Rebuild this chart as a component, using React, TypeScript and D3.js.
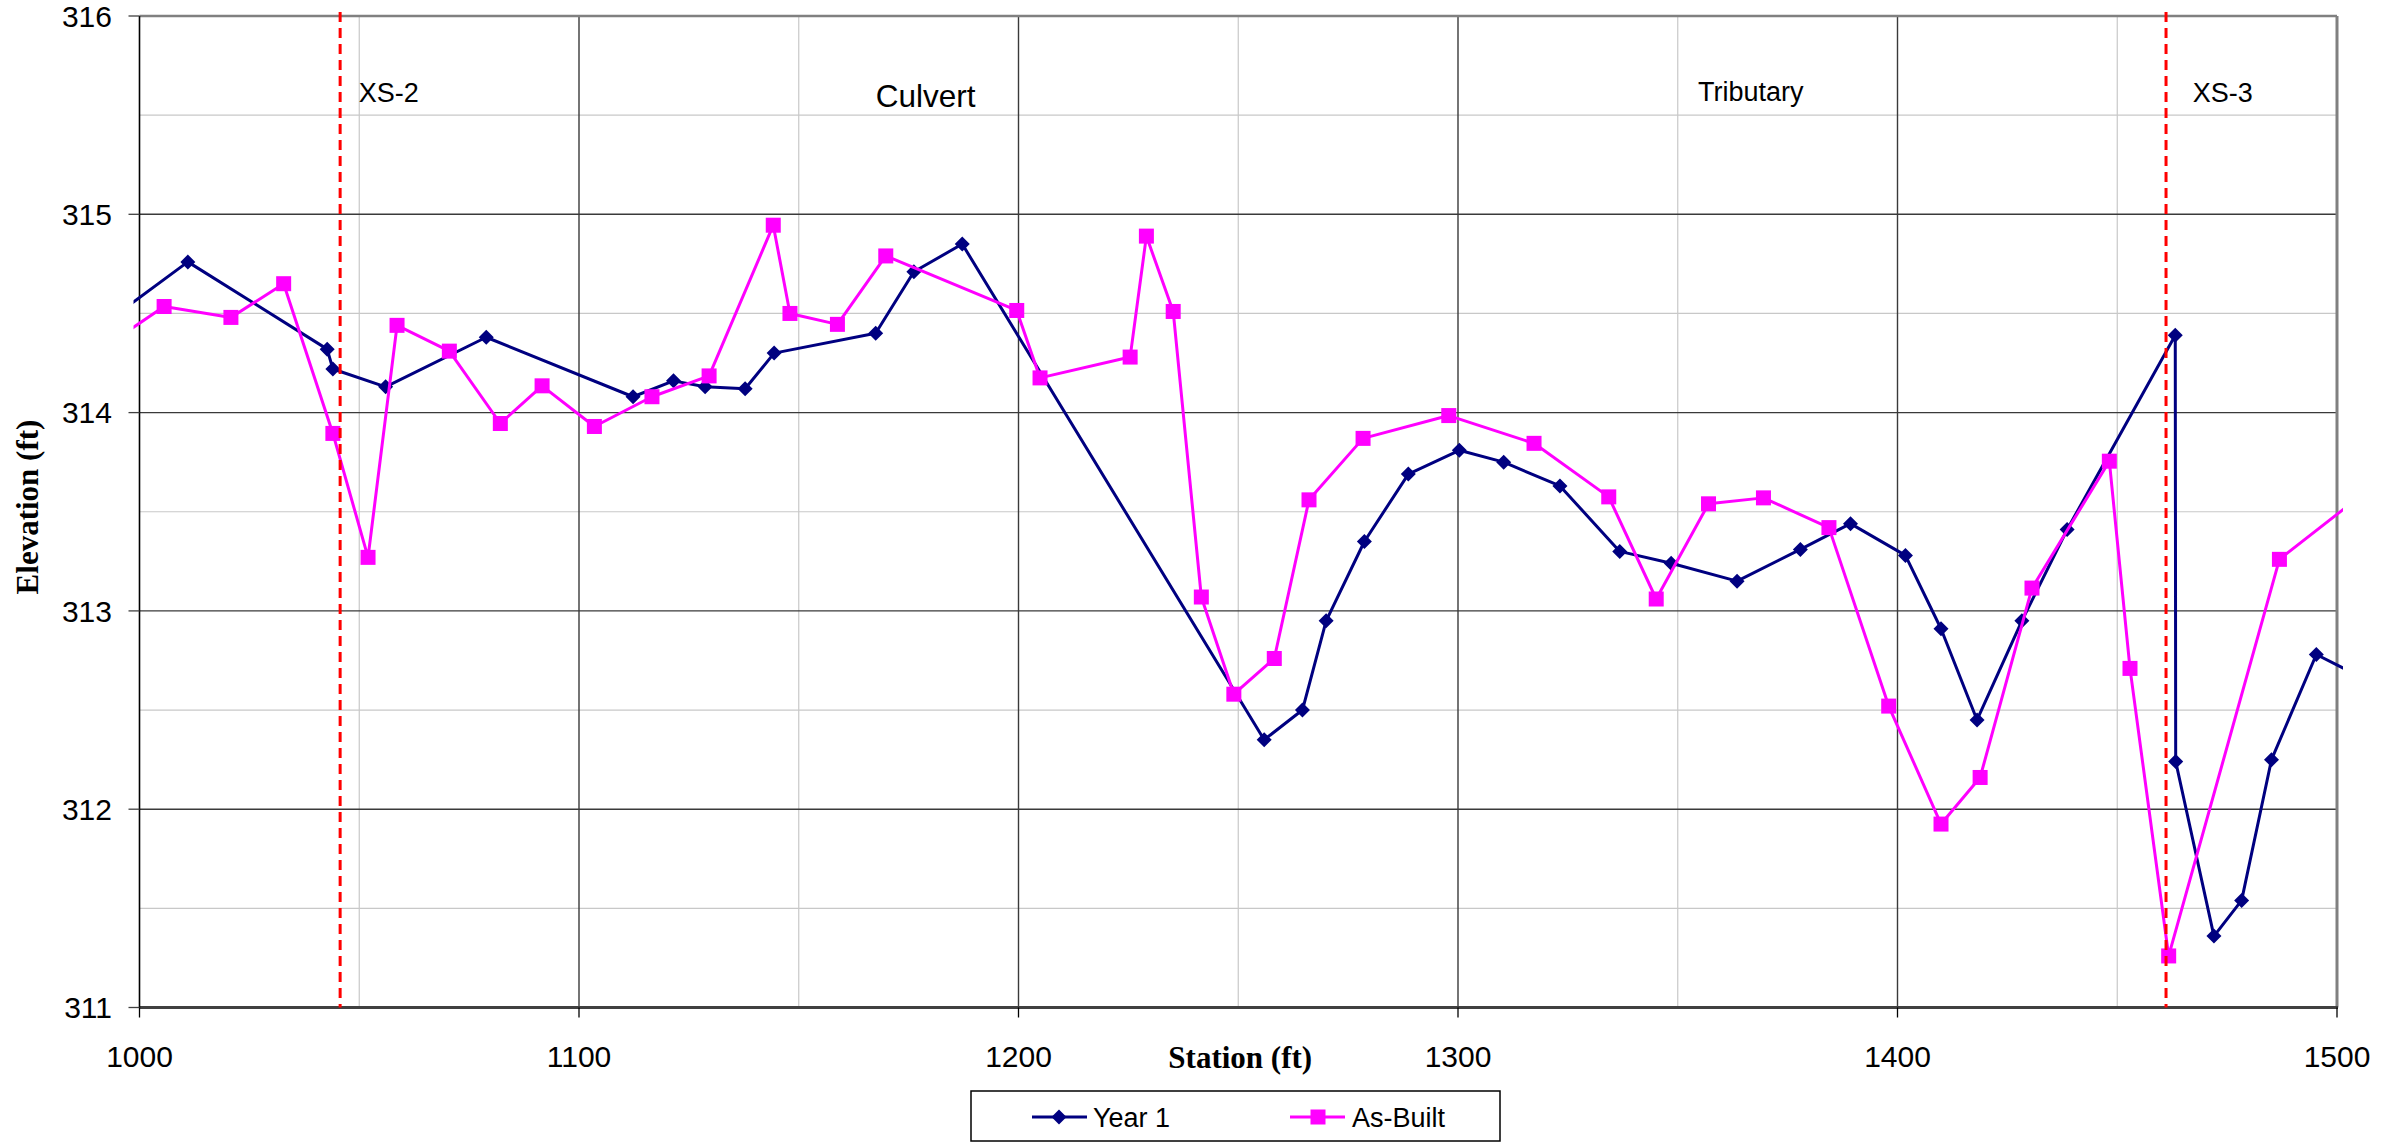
import React from "react";
import * as d3 from "d3";

const year1Station = [992, 1011.0, 1042.7, 1044.0, 1056.0, 1078.9, 1112.3, 1121.5, 1128.7, 1137.8, 1144.4, 1167.5, 1176.2, 1187.2, 1255.9, 1264.6, 1270.0, 1278.7, 1288.7, 1300.3, 1310.4, 1323.2, 1336.8, 1348.5, 1363.5, 1377.9, 1389.3, 1401.8, 1409.9, 1418.1, 1428.3, 1438.6, 1463.2, 1463.3, 1472.0, 1478.3, 1485.1, 1495.3, 1506];
const year1Elev = [314.45, 314.76, 314.32, 314.22, 314.13, 314.38, 314.08, 314.16, 314.13, 314.12, 314.30, 314.40, 314.71, 314.85, 312.35, 312.50, 312.95, 313.35, 313.69, 313.81, 313.75, 313.63, 313.30, 313.24, 313.15, 313.31, 313.44, 313.28, 312.91, 312.45, 312.95, 313.41, 314.39, 312.24, 311.36, 311.54, 312.25, 312.78, 312.66];

const asBuiltStation = [990, 1005.6, 1020.8, 1032.8, 1044.0, 1052.0, 1058.6, 1070.5, 1082.1, 1091.6, 1103.5, 1116.6, 1129.6, 1144.2, 1148.0, 1158.8, 1169.8, 1199.6, 1204.9, 1225.4, 1229.1, 1235.2, 1241.6, 1249.0, 1258.2, 1266.1, 1278.4, 1297.9, 1317.3, 1334.3, 1345.1, 1357.0, 1369.5, 1384.4, 1398.0, 1409.9, 1418.8, 1430.6, 1448.2, 1452.9, 1461.7, 1486.9, 1510];
const asBuiltElev = [314.30, 314.535, 314.48, 314.65, 313.895, 313.27, 314.44, 314.31, 313.945, 314.135, 313.93, 314.08, 314.185, 314.945, 314.50, 314.445, 314.79, 314.515, 314.175, 314.28, 314.89, 314.51, 313.07, 312.58, 312.76, 313.56, 313.87, 313.985, 313.845, 313.575, 313.06, 313.54, 313.57, 313.42, 312.52, 311.925, 312.16, 313.115, 313.755, 312.71, 311.26, 313.26, 313.66];

const xTicks = [1000, 1100, 1200, 1300, 1400, 1500];
const yTicks = [311, 312, 313, 314, 315, 316];
const xMinor = [1050, 1150, 1250, 1350, 1450];
const yMinor = [311.5, 312.5, 313.5, 314.5, 315.5];

const refStations = [1045.65, 1461.1];
const annotLabels = ["XS-2", "Culvert", "Tributary", "XS-3"];
const annotStations = [1049.9, 1167.5, 1354.6, 1467.2];
const annotElev = [315.566, 315.54, 315.57, 315.566];
const annotSize = [27, 31.5, 27, 27];

const seriesNames = ["Year 1", "As-Built"];

const L = 139.5, R = 2337, T = 16, B = 1007.5;
const SANS = "'Liberation Sans', Arial, sans-serif";
const SERIF = "'Liberation Serif', 'Times New Roman', serif";

export default function App() {
  const x = d3.scaleLinear().domain([1000, 1500]).range([L, R]);
  const y = d3.scaleLinear().domain([311, 316]).range([B, T]);

  const y1 = year1Station.map((s, i) => [s, year1Elev[i]] as [number, number]);
  const ab = asBuiltStation.map((s, i) => [s, asBuiltElev[i]] as [number, number]);
  const line = d3.line<[number, number]>().x(d => x(d[0])).y(d => y(d[1]));
  const inRange = (d: [number, number]) => d[0] >= 1000 && d[0] <= 1500;

  const navy = "#000080";
  const mag = "#FF00FF";
  const diamond = (cx: number, cy: number, r: number) =>
    `M${cx},${cy - r}L${cx + r},${cy}L${cx},${cy + r}L${cx - r},${cy}Z`;

  const legX = 971, legY = 1091, legW = 529, legH = 50;
  const legCy = 1117;
  const sq = 15;

  return (
    <svg width={2408} height={1144} style={{ position: "absolute", left: 0, top: 0, background: "#fff" }}>
      <defs>
        <clipPath id="plotClip">
          <rect x={L - 6} y={T} width={R - L + 12} height={B - T} />
        </clipPath>
      </defs>
      <rect x={0} y={0} width={2408} height={1144} fill="#fff" />
      {/* minor grid */}
      {yMinor.map(v => (
        <line key={"ym" + v} x1={L} x2={R} y1={y(v)} y2={y(v)} stroke="#c8c8c8" strokeWidth={1.2} />
      ))}
      {xMinor.map(v => (
        <line key={"xm" + v} x1={x(v)} x2={x(v)} y1={T} y2={B} stroke="#c8c8c8" strokeWidth={1.2} />
      ))}
      {/* major grid */}
      {yTicks.slice(1, -1).map(v => (
        <line key={"yM" + v} x1={L} x2={R} y1={y(v)} y2={y(v)} stroke="#3a3a3a" strokeWidth={1.4} />
      ))}
      {xTicks.slice(1, -1).map(v => (
        <line key={"xM" + v} x1={x(v)} x2={x(v)} y1={T} y2={B} stroke="#3a3a3a" strokeWidth={1.4} />
      ))}
      {/* frame */}
      <line x1={L} x2={R} y1={T} y2={T} stroke="#808080" strokeWidth={2.5} />
      <line x1={R} x2={R} y1={T} y2={B} stroke="#808080" strokeWidth={3} />
      <line x1={L} x2={R + 1} y1={B} y2={B} stroke="#404040" strokeWidth={3} />
      <line x1={L} x2={L} y1={T} y2={B} stroke="#000" strokeWidth={1.6} />
      {/* ticks */}
      {yTicks.map(v => (
        <line key={"yt" + v} x1={L - 11} x2={L} y1={y(v)} y2={y(v)} stroke="#404040" strokeWidth={1.3} />
      ))}
      {xTicks.map(v => (
        <line key={"xt" + v} x1={x(v)} x2={x(v)} y1={B} y2={B + 10} stroke="#000" strokeWidth={1.3} />
      ))}
      {yTicks.map(v => (
        <text key={"yl" + v} x={112} y={y(v)} dy="0.36em" textAnchor="end" fontFamily={SANS} fontSize={30} fill="#000">{v}</text>
      ))}
      {xTicks.map(v => (
        <text key={"xl" + v} x={x(v)} y={1067} textAnchor="middle" fontFamily={SANS} fontSize={30} fill="#000">{v}</text>
      ))}
      <text x={(L + R) / 2 + 2} y={1068} textAnchor="middle" fontFamily={SERIF} fontWeight="bold" fontSize={31} fill="#000">Station (ft)</text>
      <text transform={`translate(38,507) rotate(-90)`} textAnchor="middle" fontFamily={SERIF} fontWeight="bold" fontSize={31} fill="#000">Elevation (ft)</text>

      {/* series */}
      <g clipPath="url(#plotClip)">
        <path d={line(y1) || ""} fill="none" stroke={navy} strokeWidth={3} strokeLinejoin="round" />
        {y1.filter(inRange).map((d, i) => (
          <path key={"yd" + i} d={diamond(x(d[0]), y(d[1]), 7.5)} fill={navy} />
        ))}
        <path d={line(ab) || ""} fill="none" stroke={mag} strokeWidth={3} strokeLinejoin="round" />
        {ab.filter(inRange).map((d, i) => (
          <rect key={"ab" + i} x={x(d[0]) - sq / 2} y={y(d[1]) - sq / 2} width={sq} height={sq} fill={mag} />
        ))}
      </g>

      {/* reference lines */}
      {refStations.map(s => (
        <line key={"ref" + s} x1={x(s)} x2={x(s)} y1={12} y2={B} stroke="#FF0000" strokeWidth={3} strokeDasharray="10,6" />
      ))}
      {annotLabels.map((t, i) => (
        <text key={t} x={x(annotStations[i])} y={y(annotElev[i])} fontFamily={SANS} fontSize={annotSize[i]} fill="#000">{t}</text>
      ))}

      {/* legend */}
      <rect x={legX} y={legY} width={legW} height={legH} fill="#fff" stroke="#000" strokeWidth={1.5} />
      <line x1={1032} x2={1087} y1={legCy} y2={legCy} stroke={navy} strokeWidth={3} />
      <path d={diamond(1059, legCy, 7.5)} fill={navy} />
      <text x={1093} y={legCy} dy="0.36em" fontFamily={SANS} fontSize={27} fill="#000">{seriesNames[0]}</text>
      <line x1={1290} x2={1345} y1={legCy} y2={legCy} stroke={mag} strokeWidth={3} />
      <rect x={1318 - sq / 2} y={legCy - sq / 2} width={sq} height={sq} fill={mag} />
      <text x={1352} y={legCy} dy="0.36em" fontFamily={SANS} fontSize={27} fill="#000">{seriesNames[1]}</text>
    </svg>
  );
}
